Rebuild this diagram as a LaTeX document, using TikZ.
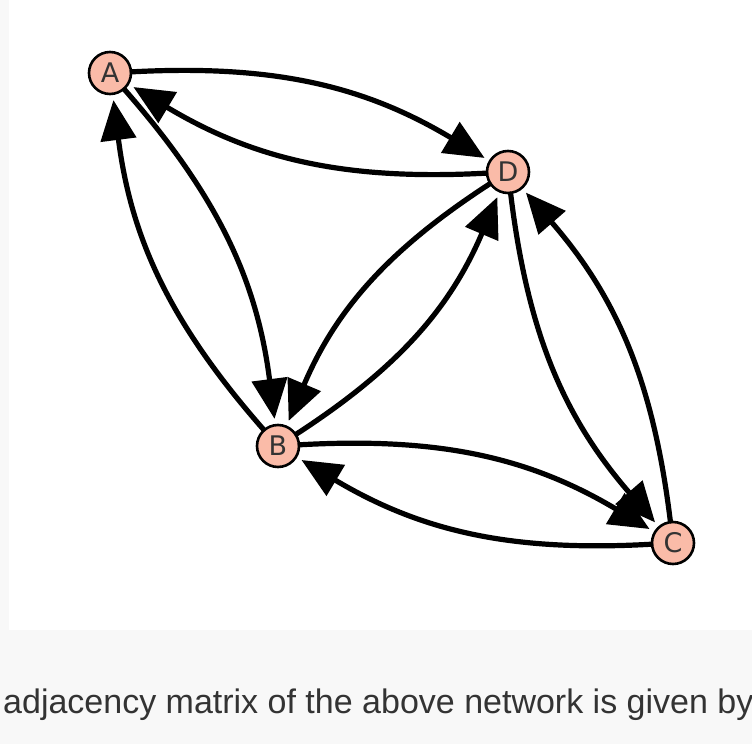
\documentclass[tikz,border=0pt]{standalone}
\usepackage{fontspec}
\setmainfont{Liberation Sans}
\newfontfamily\nodefont{DejaVu Sans}
\usetikzlibrary{arrows.meta}
\definecolor{pagegray}{HTML}{F8F8F8}
\definecolor{vertexfill}{HTML}{FABBA8}
\definecolor{captiongray}{HTML}{333333}
\begin{document}
\begin{tikzpicture}[x=1pt,y=-1pt,
  vertex/.style={circle, draw=black, line width=2.6pt, fill=vertexfill,
    minimum size=42pt, inner sep=0pt,
    font=\nodefont\fontsize{27}{27}\selectfont, text=black!80},
  arc/.style={line width=5.2pt, line cap=round,
    -{Triangle[length=40pt,width=35pt]}, shorten >=5pt}]
% page background and white panel
\fill[pagegray] (0,0) rectangle (752,744);
\fill[white] (9,0) rectangle (752,630);
\useasboundingbox (0,0) rectangle (752,744);

% vertices
\node[vertex] (A) at (110,73)  {A};
\node[vertex] (D) at (508,172) {D};
\node[vertex] (B) at (278,446) {B};
\node[vertex] (C) at (673,543) {C};

% directed edges, each pair in both directions
\draw[arc] (A) to[bend left=17]  (D);
\draw[arc] (D) to[bend left=17]  (A);
\draw[arc] (A) to[bend left=17]  (B);
\draw[arc] (B) to[bend left=17]  (A);
\draw[arc] (B) to[bend left=17]  (C);
\draw[arc] (C) to[bend left=17]  (B);
\draw[arc] (B) to[bend right=17] (D);
\draw[arc] (D) to[bend right=17] (B);
\draw[arc] (D) to[bend right=17] (C);
\draw[arc] (C) to[bend right=17] (D);

% caption
\node[anchor=base west, inner sep=0pt, text=captiongray,
  font=\fontsize{34}{34}\selectfont] (caption) at (3,713)
  {adjacency matrix of the above network is given by};
\end{tikzpicture}
\end{document}
